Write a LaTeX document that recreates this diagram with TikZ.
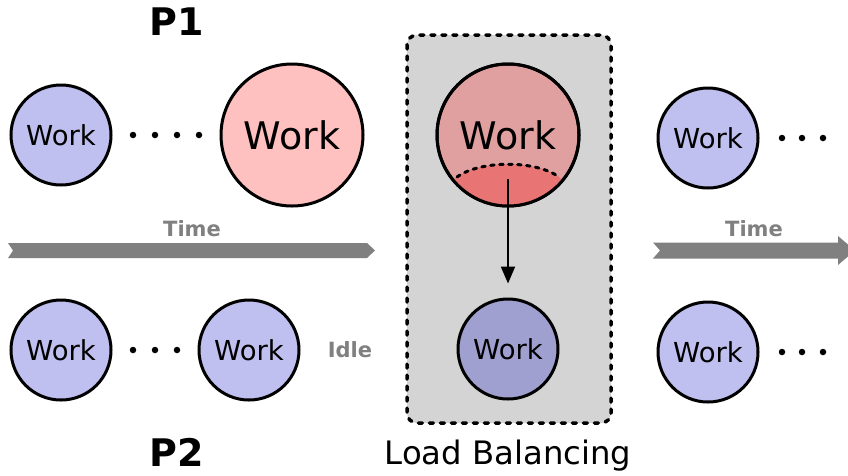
\documentclass[tikz,border=0pt]{standalone}
\usepackage{fontspec}
\setmainfont{DejaVu Sans}
\usetikzlibrary{arrows.meta}
\definecolor{lav}{HTML}{C0C0F0}
\definecolor{lavdark}{HTML}{A0A0D0}
\definecolor{pinklight}{HTML}{FFC0C0}
\definecolor{pinkmid}{HTML}{E0A0A0}
\definecolor{pinkred}{HTML}{E87474}
\definecolor{boxgray}{HTML}{D4D4D4}
\definecolor{timegray}{HTML}{808080}
\tikzset{
  work/.style={circle, draw=black, line width=3pt, minimum size=100pt, inner sep=0pt,
    fill=lav, font=\fontsize{27.5}{27.5}\selectfont},
  bigwork/.style={work, minimum size=142pt, font=\fontsize{38}{38}\selectfont},
  proc/.style={font=\bfseries\fontsize{38}{38}\selectfont},
  graylabel/.style={text=timegray, font=\bfseries\fontsize{21}{21}\selectfont},
  dotmark/.style={circle, fill=black, inner sep=0pt, minimum size=6.5pt},
  timebar/.style={fill=timegray, draw=none},
  lbbox/.style={draw=black, fill=boxgray, line width=3.5pt, rounded corners=10pt,
    dash pattern=on 4pt off 7pt, line cap=round},
}
\begin{document}
\begin{tikzpicture}[x=1pt, y=-1pt]
\useasboundingbox (0,0) rectangle (848,475);
\clip (0,0) rectangle (848,475);

% processor labels
\node[proc] (p1) at (177,22) {P1};
\node[proc] (p2) at (177,452) {P2};

% P1 before balancing
\node[work] (a1) at (61,135) {Work};
\foreach \x [count=\i] in {133,155,177,199} \node[dotmark] (ad\i) at (\x,135) {};
\node[bigwork, fill=pinklight] (a2) at (292,135) {Work};

% P2 before balancing
\node[work] (b1) at (61,350) {Work};
\foreach \x [count=\i] in {133,155,177} \node[dotmark] (bd\i) at (\x,350) {};
\node[work] (b2) at (249,350) {Work};
\node[graylabel] (idle) at (350,350) {Idle};

% time axis, left part
\node[graylabel] (t1) at (192,229) {Time};
\fill[timebar] (8,243) -- (367,243) -- (375,250.5) -- (367,258) -- (8,258) -- (13,250.5) -- cycle;

% load balancing step
\draw[lbbox] (407,35) rectangle (611,423);
\node[font=\fontsize{32.3}{32.3}\selectfont] (lb) at (508,456) {Load Balancing};
\node[bigwork, fill=pinkmid] (c1) at (508,135) {};
\begin{scope}
  \clip (508,135) circle (71);
  \fill[pinkred] (434,194) -- (457,177) .. controls (480,160) and (536,160) .. (559,177)
    -- (582,194) -- (582,230) -- (434,230) -- cycle;
\end{scope}
\draw[line width=3pt] (508,135) circle (71);
\node[font=\fontsize{38}{38}\selectfont] at (508,135) {Work};
\draw[line width=3pt, dash pattern=on 3.5pt off 5.5pt, line cap=round]
  (457,177) .. controls (480,160) and (536,160) .. (559,177);
\node[work, fill=lavdark] (c2) at (508,349) {Work};
\coordinate (split) at (508,179);
\draw[line width=2pt, -{Stealth[length=17pt, width=14pt, inset=0pt]}, shorten >=14pt] (split) -- (c2.north);

% after balancing
\node[work] (d1) at (708,138) {Work};
\foreach \x [count=\i] in {782,802,823} \node[dotmark] (dd\i) at (\x,138) {};
\node[work] (e1) at (708,352) {Work};
\foreach \x [count=\i] in {782,802,823} \node[dotmark] (ed\i) at (\x,352) {};

% time axis, right part
\node[graylabel] (t2) at (754,229) {Time};
\fill[timebar] (653,242.5) -- (838,242.5) -- (838,236) -- (855,250.5) -- (838,265)
  -- (838,258.5) -- (653,258.5) -- (660,250.5) -- cycle;
\end{tikzpicture}
\end{document}
